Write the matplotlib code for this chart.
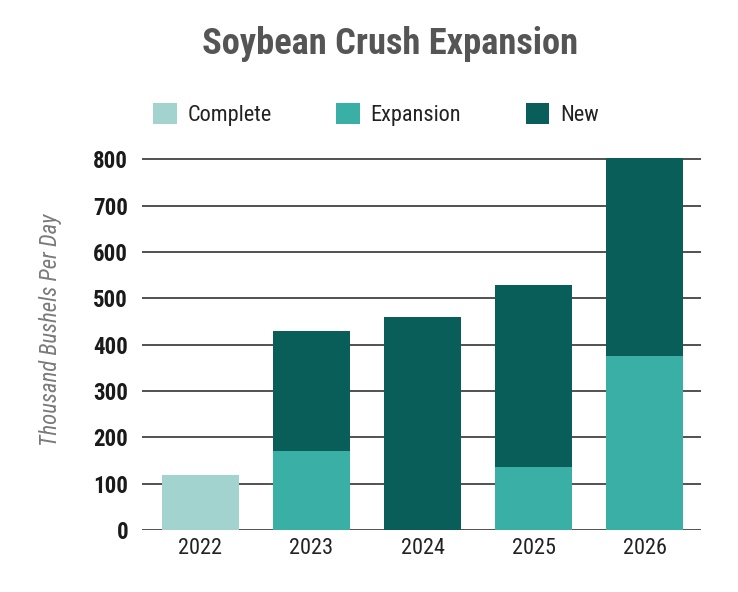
import matplotlib
matplotlib.use("Agg")
import matplotlib.pyplot as plt
import numpy as np

years = ["2022", "2023", "2024", "2025", "2026"]
complete = [118, 0, 0, 0, 0]
expansion = [0, 171, 0, 136, 375]
new = [0, 259, 460, 393, 428]
yticks = [0, 100, 200, 300, 400, 500, 600, 700, 800]

colors = {"Complete": "#a3d3ce", "Expansion": "#3aafa5", "New": "#0a5e59"}
cond = "Roboto Condensed"

fig = plt.figure(figsize=(7.38, 5.92), dpi=100)
ax = fig.add_axes([0.1924, 0.1047, 0.7575, 0.6342])

x = np.arange(len(years))
w = 0.694
b1 = ax.bar(x, complete, w, color=colors["Complete"], label="Complete", zorder=3)
b2 = ax.bar(x, expansion, w, bottom=complete, color=colors["Expansion"], label="Expansion", zorder=3)
bottom2 = [c + e for c, e in zip(complete, expansion)]
b3 = ax.bar(x, new, w, bottom=bottom2, color=colors["New"], label="New", zorder=3)

ax.set_xlim(-0.527, 4.509)
ax.set_ylim(0, 810)
ax.set_yticks(yticks)
ax.set_yticklabels([str(v) for v in yticks], fontfamily=cond, fontweight="bold", fontsize=16.5, color="#1a1a1a")
ax.set_xticks(x)
ax.set_xticklabels(years, fontfamily=cond, fontsize=16, color="#222222")
for s in ax.spines.values():
    s.set_visible(False)
ax.tick_params(axis="both", length=0)
ax.tick_params(axis="y", pad=10)
ax.tick_params(axis="x", pad=6)
for v in yticks:
    ax.axhline(v, color="#333333", lw=1.2, zorder=1)

ax.set_ylabel("Thousand Bushels Per Day", fontfamily=cond, fontstyle="italic", fontsize=16.4, color="#7a7a7a")
ax.yaxis.set_label_coords(-0.143, 0.533)

fig.text(0.529, 0.925, "Soybean Crush Expansion", ha="center", va="center", fontfamily=cond,
         fontweight="bold", fontsize=26.2, color="#555555")

leg = fig.legend(handles=[b1, b2, b3], labels=["Complete", "Expansion", "New"], loc="center",
                 bbox_to_anchor=(0.5095, 0.807), ncol=3, frameon=False,
                 prop={"family": cond, "size": 16}, handlelength=1.04, handleheight=1.08,
                 handletextpad=0.5, columnspacing=2.9, borderpad=0, borderaxespad=0)
for t in leg.get_texts():
    t.set_color("#222222")

fig.savefig("out.png", dpi=100)
